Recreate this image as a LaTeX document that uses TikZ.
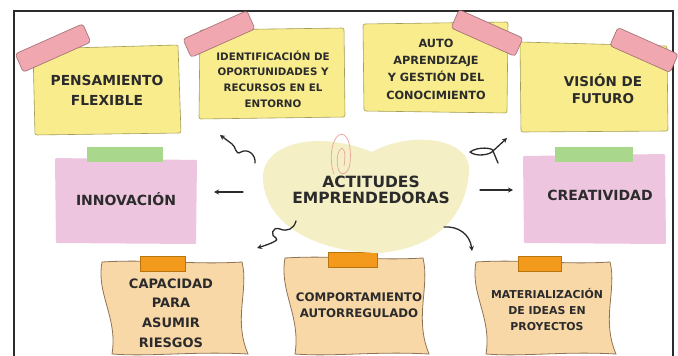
\documentclass[tikz,border=0pt]{standalone}
\usepackage{fontspec}
\setmainfont{DejaVu Sans}
\usetikzlibrary{arrows.meta}

\definecolor{ink}{HTML}{2B2B2B}
\definecolor{noteyel}{HTML}{F8EC8C}
\definecolor{noteyelline}{HTML}{A39D55}
\definecolor{tapepink}{HTML}{F0A7B0}
\definecolor{tapepinkline}{HTML}{9E6A6E}
\definecolor{notepink}{HTML}{EEC5DF}
\definecolor{tapegreen}{HTML}{A9D88C}
\definecolor{notetan}{HTML}{F9D8A8}
\definecolor{notetanline}{HTML}{8E7454}
\definecolor{tapeorange}{HTML}{F39A1C}
\definecolor{tapeorangeline}{HTML}{B8740F}
\definecolor{blob}{HTML}{F4EFC5}
\definecolor{clipcol}{HTML}{E6A49C}

\newcommand{\fsz}[2]{\fontsize{#1}{#2}\selectfont\bfseries}

\tikzset{
  ynote/.style={fill=noteyel, draw=noteyelline, line width=0.6pt, rounded corners=2pt},
  ptape/.style={fill=tapepink, draw=tapepinkline, line width=0.6pt, rounded corners=3pt},
  pnote/.style={fill=notepink, rounded corners=1pt},
  tannote/.style={fill=notetan, draw=notetanline, line width=0.8pt},
  otape/.style={fill=tapeorange, draw=tapeorangeline, line width=0.5pt},
  lbl/.style={align=center, text=ink, inner sep=0pt},
  arw/.style={draw=ink, line width=1.3pt, line cap=round, -{Stealth[length=5pt,width=5pt]}},
}

\begin{document}
\begin{tikzpicture}[x=1pt,y=-1pt]
        \useasboundingbox (0,0) rectangle (678,356);
        \fill[white] (0,0) rectangle (678,356);
        % frame
        \draw[ink, line width=1.5pt] (14,358) -- (14,11) -- (673,11) -- (673,358);

        % yellow notes
        \foreach \ax/\ay/\bx/\by/\cx/\cy/\dx/\dy in {33/49/178/45/181/133/35/135, 200/30/344/28/345/117/199/119, 363/24/508/22/507/113/364/111, 520/42/667/46/668/131/521/132} {
            \filldraw[ynote] (\ax,\ay) -- (\bx,\by) -- (\cx,\cy) -- (\dx,\dy) -- cycle;
        }
        \filldraw[ptape, rotate around={24:(53,48)}] (16,38) rectangle (90,58);
        \filldraw[ptape, rotate around={24:(219,34)}] (184,24) rectangle (254,44);
        \filldraw[ptape, rotate around={-24:(487,33)}] (452,23) rectangle (522,43);
        \filldraw[ptape, rotate around={-24:(644,50)}] (611,40) rectangle (677,60);

        % pink notes
        \fill[pnote] (55,158) -- (197,160) -- (196,244) -- (56,243) -- cycle;
        \fill[pnote] (523,156) -- (665,154) -- (666,244) -- (524,243) -- cycle;
        \fill[tapegreen] (87,147) rectangle (163,162);
        \fill[tapegreen] (555,147) rectangle (633,162);

        % tan notes
        \foreach \x/\y/\w/\h in {102/262/140/92, 285/258/138/96, 476/262/134/92} {
            \filldraw[tannote] (\x,\y) .. controls (\x+0.35*\w,\y-3) and (\x+0.65*\w,\y+3) .. (\x+\w,\y)
                .. controls (\x+\w+7,\y+0.3*\h) and (\x+\w-9,\y+0.62*\h) .. (\x+\w+6,\y+\h)
                .. controls (\x+0.65*\w,\y+\h-3) and (\x+0.35*\w,\y+\h+3) .. (\x+10,\y+\h)
                .. controls (\x+16,\y+0.6*\h) and (\x-6,\y+0.35*\h) .. cycle;
        }
        \filldraw[otape] (140,256) rectangle (185,271);
        \filldraw[otape] (328,252) rectangle (377,267);
        \filldraw[otape] (518,256) rectangle (561,271);

        % centre blob
        \fill[blob] (378,253) .. controls (318,252) and (266,226) .. (263,180)
            .. controls (260,146) and (312,128) .. (372,152)
            .. controls (412,130) and (472,138) .. (469,172)
            .. controls (466,216) and (436,249) .. (378,253);
        \draw[clipcol, line width=0.7pt] (334,174) .. controls (329,160) and (331,140) .. (339,135)
            .. controls (347,131) and (352,145) .. (350,163)
            .. controls (349,174) and (340,178) .. (338,168)
            .. controls (336,158) and (338,150) .. (342,148)
            .. controls (346,150) and (345,160) .. (344,166);

        % labels
        \node[lbl, font=\fsz{13.8}{20}] (flex) at (107,90) {PENSAMIENTO\\FLEXIBLE};
        \node[lbl, font=\fsz{10.3}{15.7}] (ident) at (273,79) {IDENTIFICACIÓN DE\\OPORTUNIDADES Y\\RECURSOS EN EL\\ENTORNO};
        \node[lbl, font=\fsz{11.3}{17.3}] (auto) at (436,69) {AUTO\\APRENDIZAJE\\Y GESTIÓN DEL\\CONOCIMIENTO};
        \node[lbl, font=\fsz{13.5}{17}] (vision) at (603,89) {VISIÓN DE\\FUTURO};
        \node[lbl, font=\fsz{14}{18}] (innov) at (126,199) {INNOVACIÓN};
        \node[lbl, font=\fsz{14}{18}] (creat) at (600,195) {CREATIVIDAD};
        \node[lbl, font=\fsz{15.5}{15.5}] (actit) at (371,190) {ACTITUDES\\EMPRENDEDORAS};
        \node[lbl, font=\fsz{13}{19.7}] (riesgos) at (171,313) {CAPACIDAD\\PARA\\ASUMIR\\RIESGOS};
        \node[lbl, font=\fsz{11.8}{16}] (comport) at (359,305) {COMPORTAMIENTO\\AUTORREGULADO};
        \node[lbl, font=\fsz{10.9}{16}] (mater) at (547,310) {MATERIALIZACIÓN\\DE IDEAS EN\\PROYECTOS};

        % arrows
        \coordinate (ulS) at (255,163);
        \coordinate (ulE) at (220,135);
        \coordinate (lS) at (243,192);
        \coordinate (lE) at (214,192);
        \coordinate (dlS) at (296,221);
        \coordinate (dlE) at (257,248);
        \coordinate (urS) at (470,152);
        \coordinate (urE) at (507,138);
        \coordinate (rS) at (480,190);
        \coordinate (rE) at (513,190);
        \coordinate (drS) at (444,227);
        \coordinate (drE) at (472,251);
        \draw[arw] (ulS) .. controls (256,155) and (248,148) .. (241,152)
            .. controls (235,156) and (236,146) .. (232,144) -- (ulE);
        \draw[arw] (lS) -- (lE);
        \draw[arw] (dlS) .. controls (294,229) and (287,232) .. (280,229)
            .. controls (272,226) and (270,236) .. (276,238)
            .. controls (280,240) and (270,244) .. (dlE);
        \draw[ink, line width=1.3pt, line cap=round] (urS) .. controls (478,146) and (494,148) .. (493,151)
            .. controls (490,155) and (476,157) .. (urS);
        \draw[arw] (493,151) -- (urE);
        \draw[ink, line width=1.3pt, line cap=round] (493,151) -- (498,163);
        \draw[arw] (rS) -- (rE);
        \draw[arw] (drS) .. controls (458,226) and (470,234) .. (drE);
    \end{tikzpicture}
\end{document}
